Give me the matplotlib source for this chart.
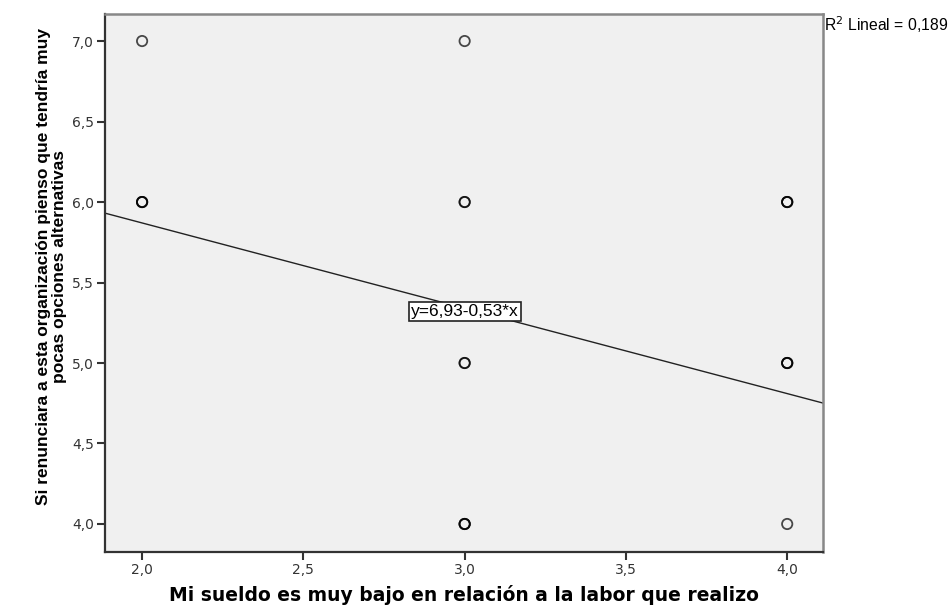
import matplotlib.pyplot as plt
import numpy as np

# observations (repeated pairs are stacked on top of each other)
sueldo = [2, 2, 2, 2,
          3, 3, 3, 3, 3, 3, 3, 3,
          4, 4, 4, 4, 4, 4, 4]
alternativas = [7, 6, 6, 6,
                7, 6, 6, 5, 5, 4, 4, 4,
                6, 6, 6, 5, 5, 5, 4]

intercepto = 6.93
pendiente = -0.53
r2 = 0.189

xticks = [2.0, 2.5, 3.0, 3.5, 4.0]
yticks = [4.0, 4.5, 5.0, 5.5, 6.0, 6.5, 7.0]

xlabel = "Mi sueldo es muy bajo en relación a la labor que realizo"
ylabel = "Si renunciara a esta organización pienso que tendría muy\npocas opciones alternativas"

def coma(v):
    return f"{v:.1f}".replace(".", ",")

fig = plt.figure(figsize=(9.52, 6.06), dpi=100)
ax = fig.add_axes([105/952, 1 - 552/606, (823-105)/952, (552-14)/606])
ax.set_facecolor("#f0f0f0")

ax.scatter(sueldo, alternativas, s=55, facecolors="none",
           edgecolors=(0, 0, 0, 0.7), linewidths=1.3, zorder=3)

xmin, xmax = 1.885, 4.111
ax.set_xlim(xmin, xmax)
ax.set_ylim(3.826, 7.168)

xs = np.array([xmin, xmax])
ax.plot(xs, intercepto + pendiente * xs, color="#222222", lw=1.0, zorder=2)

xm = 3.0
ax.text(xm, intercepto + pendiente * xm - 0.02,
        f"y={intercepto:.2f}{pendiente:+.2f}*x".replace(".", ","),
        ha="center", va="center", fontsize=12.5, family="Liberation Sans",
        bbox=dict(boxstyle="square,pad=0.12", fc="white", ec="#222222", lw=1.2),
        zorder=4)

ax.text(1.002, 1.0, "R$^2$ Lineal = " + f"{r2:.3f}".replace(".", ","),
        transform=ax.transAxes, ha="left", va="top", fontsize=11.3,
        family="Liberation Sans")

ax.set_xticks(xticks)
ax.set_xticklabels([coma(v) for v in xticks], family="DejaVu Sans", fontsize=10, color="#333333")
ax.set_yticks(yticks)
ax.set_yticklabels([coma(v) for v in yticks], family="DejaVu Sans", fontsize=10, color="#333333")
ax.tick_params(direction="out", length=6, width=1.5, color="#333333", pad=2)

for side in ["left", "bottom"]:
    ax.spines[side].set_color("#333333")
    ax.spines[side].set_linewidth(1.6)
for side in ["top", "right"]:
    ax.spines[side].set_color("#888888")
    ax.spines[side].set_linewidth(1.8)

ax.set_xlabel(xlabel, fontsize=13.5, fontweight="bold", family="DejaVu Sans", labelpad=6)
ax.set_ylabel(ylabel, fontsize=12.5, fontweight="bold",
              family=["Liberation Sans Narrow", "Liberation Sans"],
              linespacing=1.05)
ax.yaxis.set_label_coords(-0.053, 0.53)

fig.savefig("out.png", dpi=100)
